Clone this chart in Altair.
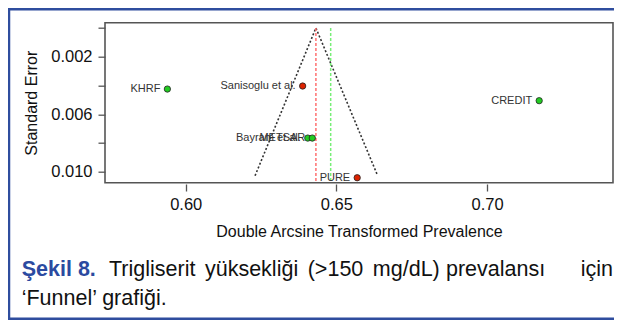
import altair as alt
import pandas as pd

# ---- data ----
study = ["KHRF", "Sanisoglu et al.", "CREDIT", "Bayram et al.", "METSAR", "PURE"]
estimate = [0.5939, 0.6388, 0.7173, 0.6405, 0.6420, 0.6569]
std_error = [0.00425, 0.00404, 0.00506, 0.00766, 0.00766, 0.01042]
group = ["g", "r", "g", "g", "g", "r"]

funnel_x = [0.6230, 0.6432, 0.6637]
funnel_se = [0.01028, 0.0, 0.01028]

ref_x = [0.6432, 0.6481]
ref_kind = ["fixed", "random"]
ref_top = [0.0, 0.0]
ref_bottom = [0.01077, 0.01077]

x_ticks = [0.60, 0.65, 0.70]
y_ticks = [0.0, 0.002, 0.004, 0.006, 0.008, 0.010]

FONT = "Liberation Sans"

pts = pd.DataFrame({"study": study, "est": estimate, "se": std_error, "grp": group})
fun = pd.DataFrame({"est": funnel_x, "se": funnel_se, "o": [0, 1, 2]})
ref = pd.DataFrame({"est": ref_x, "kind": ref_kind, "se": ref_top, "bot": ref_bottom})

xs = alt.Scale(domain=[0.5732, 0.7418], nice=False, zero=False)
ys = alt.Scale(domain=[-0.000365, 0.010765], nice=False, zero=False, reverse=True)

ylab = ("(abs(datum.value - 0.002) < 0.0001 || abs(datum.value - 0.006) < 0.0001 || "
        "abs(datum.value - 0.010) < 0.0001) ? format(datum.value, '.3f') : ''")

xaxis = alt.Axis(
    values=x_ticks, format=".2f", title="Double Arcsine Transformed Prevalence",
    grid=False, domain=False, tickSize=7, tickColor="#555", tickWidth=1.3,
    offset=1.3, labelPadding=5, labelFontSize=16.5, labelColor="#111",
    titleFontSize=16, titleFontWeight="normal", titleColor="#111", titlePadding=11,
    labelFont=FONT, titleFont=FONT)
yaxis = alt.Axis(
    values=y_ticks, labelExpr=ylab, labelOverlap=False,
    title="Standard Error", grid=False, domain=False, tickSize=7, tickColor="#555",
    tickWidth=1.3, labelPadding=6, labelFontSize=16.5, labelColor="#111",
    titleFontSize=16, titleFontWeight="normal", titleColor="#111", titlePadding=11,
    labelFont=FONT, titleFont=FONT)

X = alt.X("est:Q", scale=xs, axis=xaxis)
Y = alt.Y("se:Q", scale=ys, axis=yaxis)

funnel = alt.Chart(fun).mark_line(color="#333", strokeDash=[2, 2], strokeWidth=1.6).encode(
    x=X, y=Y, order="o:Q")

rules = alt.Chart(ref).mark_rule(strokeDash=[3, 2], strokeWidth=1.5).encode(
    x=X, y=Y, y2="bot:Q",
    color=alt.Color("kind:N", scale=alt.Scale(domain=["fixed", "random"],
                                              range=["#ff7070", "#77ee77"]), legend=None))

points = alt.Chart(pts).mark_point(filled=True, size=40, stroke="#222", strokeWidth=0.8, opacity=1).encode(
    x=X, y=Y,
    fill=alt.Fill("grp:N", scale=alt.Scale(domain=["g", "r"], range=["#22cc22", "#dd2200"]), legend=None))

labels = alt.Chart(pts).mark_text(align="right", baseline="middle", dx=-7, fontSize=11,
                                  font=FONT, color="#333").encode(
    x=X, y=Y, text="study:N")

CAP = 21.5
SP = " \u2006"
cap = pd.DataFrame({"t": ["x"]})


def caption(text, x, y, align="left", bold=False, color="#111"):
    return alt.Chart(cap).mark_text(text=text, align=align, baseline="alphabetic", fontSize=CAP,
                                    fontWeight="bold" if bold else "normal", font=FONT,
                                    color=color).encode(x=alt.value(x), y=alt.value(y))


cap1 = caption("Şekil 8.", -83.3, 253.3, bold=True, color="#2b4aa0")
cap2 = caption(SP.join(["Trigliserit", "yüksekliği", "(>150", "mg/dL)"]), 4, 253.3)
cap3 = caption("prevalansı", 341, 253.3)
cap4 = caption("için", 508, 253.3, align="right")
cap5 = caption("\u2018Funnel\u2019 grafiği.", -83.3, 282.3)

border = alt.Chart(cap).mark_rect(filled=False, stroke="#2f4d9e", strokeWidth=2.5).encode(
    x=alt.value(-96), x2=alt.value(520), y=alt.value(-13.5), y2=alt.value(296))

chart = alt.layer(funnel, rules, points, labels, cap1, cap2, cap3, cap4, cap5, border).properties(
    width=508, height=160,
    padding={"left": 97, "top": 14.7, "right": 1, "bottom": 137.3},
    autosize=alt.AutoSizeParams(type="none"),
    background="white",
).configure_view(stroke="#555", strokeWidth=1.6)

chart.save("out.html", embed_options={"renderer": "svg", "actions": False})
